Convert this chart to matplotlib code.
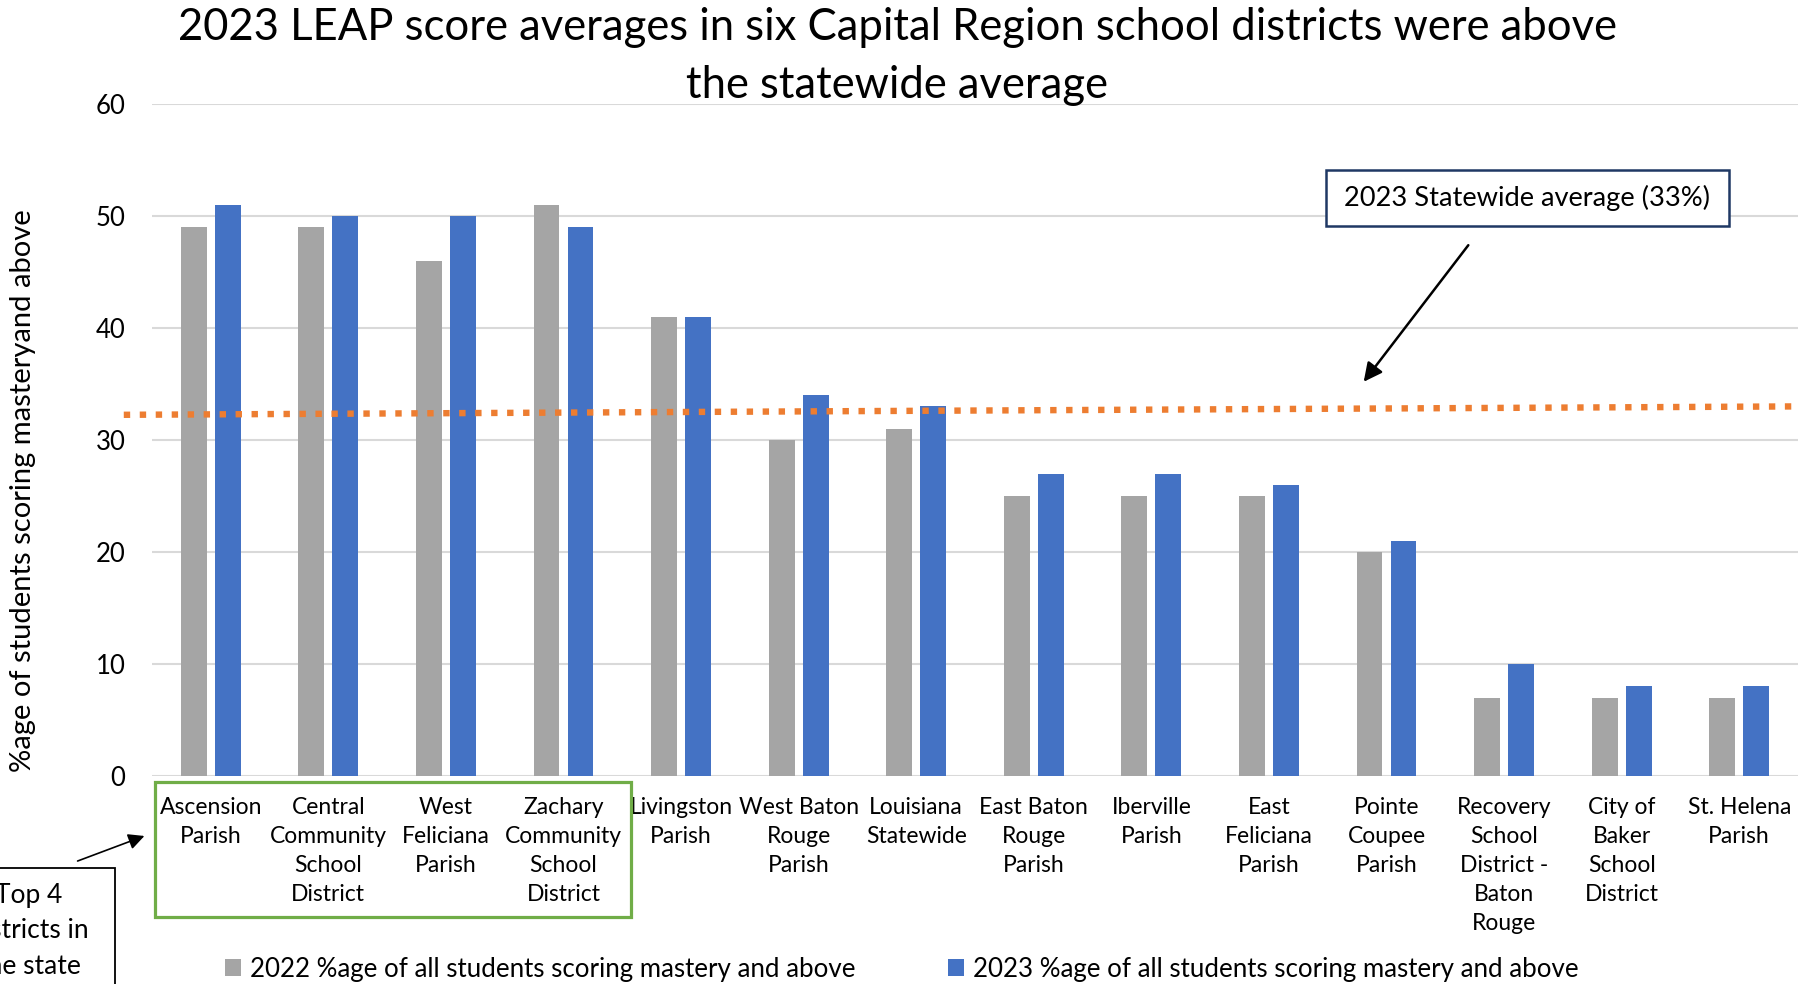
import matplotlib
matplotlib.use("Agg")
import matplotlib.pyplot as plt
from matplotlib.patches import Rectangle, FancyArrowPatch
import numpy as np

plt.rcParams['font.family'] = ['Lato', 'DejaVu Sans']

categories = [
    "Ascension\nParish", "Central\nCommunity\nSchool\nDistrict", "West\nFeliciana\nParish",
    "Zachary\nCommunity\nSchool\nDistrict", "Livingston\nParish", "West Baton\nRouge\nParish",
    "Louisiana\nStatewide", "East Baton\nRouge\nParish", "Iberville\nParish",
    "East\nFeliciana\nParish", "Pointe\nCoupee\nParish",
    "Recovery\nSchool\nDistrict -\nBaton\nRouge", "City of\nBaker\nSchool\nDistrict",
    "St. Helena\nParish",
]
values_2022 = [49, 49, 46, 51, 41, 30, 31, 25, 25, 25, 20, 7, 7, 7]
values_2023 = [51, 50, 50, 49, 41, 34, 33, 27, 27, 26, 21, 10, 8, 8]
label_2022 = "2022 %age of all students scoring mastery and above"
label_2023 = "2023 %age of all students scoring mastery and above"
statewide_line_x = [-0.74, 13.5]
statewide_line_y = [32.25, 33.0]
yticks = [0, 10, 20, 30, 40, 50, 60]

W, H = 1798, 984
fig = plt.figure(figsize=(W / 100, H / 100), dpi=100)

def fx(px):
    return px / W

def fy(py):
    return 1 - py / H

ax = fig.add_axes([fx(152), fy(776), fx(1798) - fx(152), fy(104) - fy(776)])

x = np.arange(len(categories))
bw = 0.22
off = 0.145
gray = "#A5A5A5"
blue = "#4472C4"
b1 = ax.bar(x - off, values_2022, bw, color=gray, label=label_2022, zorder=3)
b2 = ax.bar(x + off, values_2023, bw, color=blue, label=label_2023, zorder=3)

ax.set_xlim(-0.5, len(categories) - 0.5)
ax.set_ylim(0, 60)
ax.set_yticks(yticks)
ax.yaxis.grid(True, color="#D9D9D9", linewidth=1.5, zorder=0)
ax.set_axisbelow(True)
for s in ax.spines.values():
    s.set_visible(False)
ax.tick_params(axis='y', length=0, pad=19, labelsize=18.5)
ax.tick_params(axis='x', length=0, pad=15, labelsize=16.5)
ax.set_xticks(x)
ax.set_xticklabels(categories, linespacing=1.47)

# y label
fig.text(fx(23), fy(491), "%age of students scoring masteryand above", rotation=90,
         ha='center', va='center', fontsize=21)

# orange statewide line
ax.plot(statewide_line_x, statewide_line_y, color="#ED7D31", linewidth=4.6,
        linestyle=(0, (1, 1.5)), dash_capstyle='butt', clip_on=False, zorder=4)

# Title
fig.text(0.499, fy(27), "2023 LEAP score averages in six Capital Region school districts were above",
         ha='center', va='center', fontsize=31.4)
fig.text(0.499, fy(86), "the statewide average", ha='center', va='center', fontsize=31.4)

# Statewide box
fig.patches.append(Rectangle((fx(1326), fy(226)), fx(1729) - fx(1326), fy(170) - fy(226),
                             transform=fig.transFigure, fill=True, facecolor='white',
                             edgecolor='#1F3864', linewidth=1.8, zorder=5))
fig.text(fx(1527), fy(198), "2023 Statewide average (33%)", ha='center', va='center',
         fontsize=19.6, zorder=6)
fig.patches.append(FancyArrowPatch((fx(1470), fy(243)), (fx(1362), fy(384)),
                                   transform=fig.transFigure, arrowstyle='-|>',
                                   mutation_scale=28, color='black', linewidth=1.8))

# Green box around top 4
fig.patches.append(Rectangle((fx(155), fy(917)), fx(631) - fx(155), fy(782) - fy(917),
                             transform=fig.transFigure, fill=False,
                             edgecolor='#70AD47', linewidth=2.3))

# Bottom left box
fig.patches.append(Rectangle((fx(-60), fy(1010)), fx(115) - fx(-60), fy(868) - fy(1010),
                             transform=fig.transFigure, fill=False,
                             edgecolor='black', linewidth=1.3))
fig.text(fx(29), fy(931), "Top 4\ndistricts in\nthe state", ha='center', va='center',
         fontsize=19, linespacing=1.5)
fig.patches.append(FancyArrowPatch((fx(75), fy(862)), (fx(147), fy(835)),
                                   transform=fig.transFigure, arrowstyle='-|>',
                                   mutation_scale=24, color='black', linewidth=1.2))

# Legend
fig.legend(handles=[b1, b2], loc='center', bbox_to_anchor=(fx(902), fy(969)), ncol=2,
           frameon=False, fontsize=18.6, handlelength=0.62, handleheight=0.62,
           handletextpad=0.35, columnspacing=3.6, borderpad=0)

fig.savefig("out.png", dpi=100)
